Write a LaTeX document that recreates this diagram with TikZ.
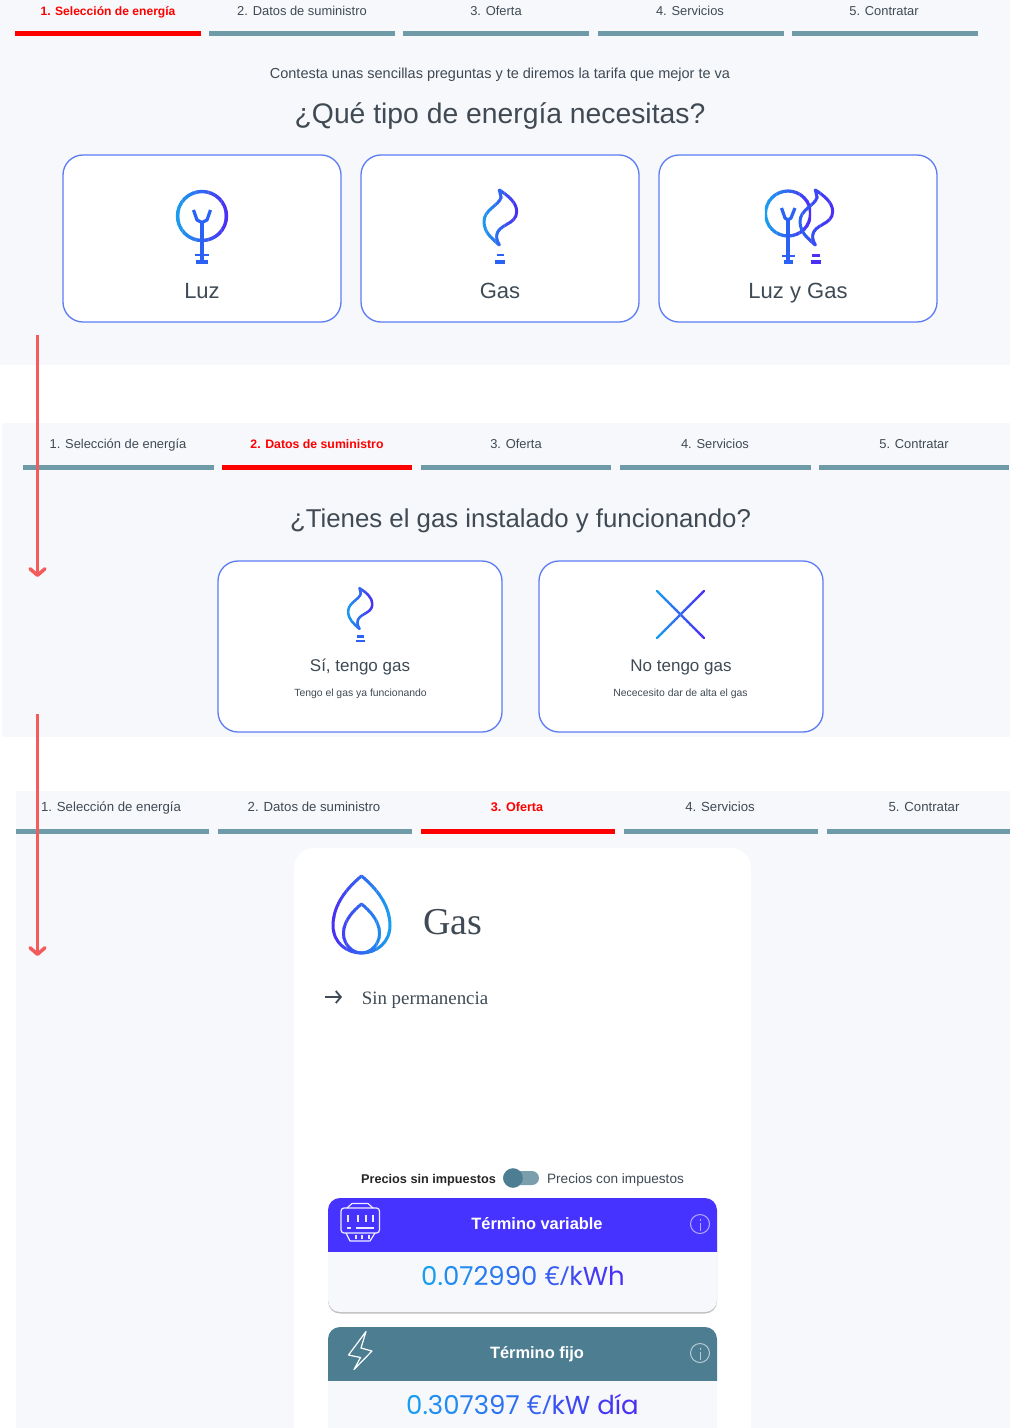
\documentclass[tikz,border=0pt]{standalone}
\usepackage{fontspec}
\setmainfont{Liberation Sans}
\newfontfamily\serifx{Liberation Serif}
\newfontfamily\pricef{Poppins}
\newfontfamily\eurof{Open Sans}
\usetikzlibrary{arrows.meta}
\definecolor{panel}{HTML}{F7F8FB}
\definecolor{barg}{HTML}{6F9AA8}
\definecolor{ink}{HTML}{3F4A54}
\definecolor{edgeb}{HTML}{5B7CF5}
\definecolor{gcyan}{HTML}{1A9DEE}
\definecolor{gviolet}{HTML}{4A30F5}
\definecolor{gmid}{HTML}{2A62F5}
\definecolor{redarrow}{HTML}{F45B5B}
\definecolor{headv}{HTML}{4733FF}
\definecolor{headt}{HTML}{4C7D91}
\definecolor{knobc}{HTML}{4C7D92}
\definecolor{trackc}{HTML}{7A9EAC}
\newcommand\fz[1]{\fontsize{#1}{#1}\selectfont}
% stroke a path with a horizontal gradient: x0, x1, left colour, right colour, width, path
\newcommand\gstroke[6]{%
  \foreach \i in {0,...,15}{%
    \pgfmathsetmacro\xa{#1+(#2-#1)*\i/16-0.2}%
    \pgfmathsetmacro\xb{#1+(#2-#1)*(\i+1)/16+0.2}%
    \pgfmathsetmacro\pp{100*\i/15}%
    \begin{scope}
      \clip (\xa,-3000) rectangle (\xb,3000);
      \draw[line width=#5,color={#4!\pp!#3},line join=round,line cap=round] #6;
    \end{scope}}}
\newcommand\leafpath{(-0.7,-27.5) .. controls (8,-22) and (16.7,-15) .. (16.7,-6) .. controls (16.7,8) and (-3,6) .. (-3.5,19) .. controls (-3.5,22) and (-2,25) .. (-0.7,27.5) .. controls (-8,21) and (-16,15) .. (-16,4) .. controls (-16,-8) and (-1,-12) .. (1,-20) .. controls (0.8,-22) and (-0.2,-25) .. (-0.7,-27.5)}
\newcommand\droppath{(0,-38.5) .. controls (-14,-27) and (-28.5,-10) .. (-28.5,11) .. controls (-28.5,28) and (-15,38.5) .. (0,38.5) .. controls (15,38.5) and (28.5,28) .. (28.5,11) .. controls (28.5,-10) and (14,-27) .. (0,-38.5)}
\newcommand\innerdrop{(0,-10.5) .. controls (-8,-4) and (-18,6) .. (-18,19) .. controls (-18,30) and (-9,38.5) .. (0,38.5) .. controls (9,38.5) and (18,30) .. (18,19) .. controls (18,6) and (8,-4) .. (0,-10.5)}
\newcommand\gc[2]{\textcolor{gcyan!#1!gviolet}{#2}}
\tikzset{
  txt/.style={anchor=base,inner sep=0pt,outer sep=0pt,text=ink},
  fs/.style={txt,font=\fz{#1},yshift={-0.36*#1*1pt}},
  fsb/.style={txt,font={\fz{#1}\bfseries},yshift={-0.36*#1*1pt}},
  barline/.style={line width=4.5pt,draw=barg},
  redline/.style={line width=4.5pt,draw=red},
  tabl/.style={fs=12.9},
  tabw/.style={fs=13.2},
  tabr/.style={fsb=12.1,text=red},
  card/.style={draw=edgeb,line width=1.3pt,fill=white,rounded corners=20pt,inner sep=0pt},
  flow/.style={draw=redarrow,line width=3.5pt,-{Straight Barb[length=6.5pt,width=15pt,line width=3.5pt,round]}},
  info/.style={draw=white,draw opacity=.6,line width=1pt},
}
\begin{document}
\begin{tikzpicture}[x=1pt,y=-1pt]
\useasboundingbox (0,0) rectangle (1010,1428);
\begin{scope}
\clip (0,0) rectangle (1010,1428);
% panels
\fill[white] (0,0) rectangle (1010,1428);
\fill[panel] (0,0) rectangle (1010,365);
\fill[panel] (2,423) rectangle (1010,737);
\fill[panel] (16,791) rectangle (1010,1428);
\fill[white,rounded corners=20pt] (294,848) rectangle (751,1480);

% tabs 1
\node[tabr] (t11) at (108,11) {1. Selección de energía};
\node[tabl] (t12) at (302,11) {2. Datos de suministro};
\node[tabl] (t13) at (496,11) {3. Oferta};
\node[tabl] (t14) at (690,11) {4. Servicios};
\node[tabl] (t15) at (884,11) {5. Contratar};
\draw[redline] (15,33.5) -- (201,33.5);
\draw[barline] (209,33.5) -- (395,33.5);
\draw[barline] (403,33.5) -- (589,33.5);
\draw[barline] (598,33.5) -- (784,33.5);
\draw[barline] (792,33.5) -- (978,33.5);
\node[fs=14.5] (intro) at (500,73) {Contesta unas sencillas preguntas y te diremos la tarifa que mejor te va};
\node[fs=28.3] (q1) at (500,113) {¿Qué tipo de energía necesitas?};

\node[card,minimum width=278pt,minimum height=167pt] (c1) at (202,238.5) {};
\node[card,minimum width=278pt,minimum height=167pt] (c2) at (500,238.5) {};
\node[card,minimum width=278pt,minimum height=167pt] (c3) at (798,238.5) {};
\node[fs=22] (l1) at (202,291) {Luz};
\node[fs=22] (l2) at (500,291) {Gas};
\node[fs=22] (l3) at (798,291) {Luz y Gas};

% Luz icon
\gstroke{176}{228}{gcyan}{gviolet}{3.4pt}{(202,216) circle (24.5)}
\draw[gmid,line width=3.2pt,line join=round] (193.5,210) -- (197,220) -- (202,222.5) -- (207,220) -- (210.5,210);
\draw[gmid,line width=3.4pt] (202,222.5) -- (202,262);
\draw[gmid,line width=2.8pt] (195,255) -- (209,255);
\draw[gmid,line width=3.5pt] (196,262) -- (208,262);

% Gas icon
\begin{scope}[shift={(500,217.5)}]
\gstroke{-18}{18}{gcyan}{gviolet}{3pt}{\leafpath}
\end{scope}
\draw[gmid,line width=2.8pt] (496.5,255) -- (504,255);
\draw[gmid,line width=3.2pt] (495,262) -- (505,262);

% Luz y Gas icon
\gstroke{765}{811}{gcyan}{gviolet}{3.2pt}{(788,213.5) circle (22.5)}
\draw[gmid,line width=3.2pt,line join=round] (781.5,208) -- (785,218) -- (788,220) -- (791,218) -- (795,208);
\draw[gmid,line width=3.4pt] (788,220) -- (788,263);
\draw[gmid,line width=2.8pt] (782,256) -- (795,256);
\draw[gmid,line width=3.5pt] (784,262) -- (793,262);
\begin{scope}[shift={(816,217.5)}]
\gstroke{-18}{18}{gmid}{gviolet}{3pt}{\leafpath}
\end{scope}
\draw[gviolet,line width=2.8pt] (812,255.5) -- (820,255.5);
\draw[gviolet,line width=3.2pt] (811,262) -- (821,262);

% tabs 2
\node[tabl] (t21) at (118,444) {1. Selección de energía};
\node[fsb=12.3,text=red] (t22) at (317,444) {2. Datos de suministro};
\node[tabl] (t23) at (516,444) {3. Oferta};
\node[tabl] (t24) at (715,444) {4. Servicios};
\node[tabl] (t25) at (914,444) {5. Contratar};
\draw[barline] (23,467.5) -- (214,467.5);
\draw[redline] (222,467.5) -- (412,467.5);
\draw[barline] (421,467.5) -- (611,467.5);
\draw[barline] (620,467.5) -- (811,467.5);
\draw[barline] (819,467.5) -- (1009,467.5);
\node[fs=25.8] (q2) at (520.5,518) {¿Tienes el gas instalado y funcionando?};

\node[card,minimum width=284pt,minimum height=171pt] (c4) at (360,646.5) {};
\node[card,minimum width=284pt,minimum height=171pt] (c5) at (681,646.5) {};
\node[fs=17] (l4) at (360,665) {Sí, tengo gas};
\node[fs=17] (l5) at (681,665) {No tengo gas};
\node[fs=10.4] (s4) at (360.5,693) {Tengo el gas ya funcionando};
\node[fs=10.4] (s5) at (680.5,693) {Nececesito dar de alta el gas};
\begin{scope}[shift={(360,608.5)},scale=.74]
\gstroke{-18}{18}{gcyan}{gviolet}{2.5pt}{\leafpath}
\end{scope}
\draw[gmid,line width=2.4pt] (357,636.5) -- (364,636.5);
\draw[gmid,line width=2.8pt] (356,641) -- (365,641);
\gstroke{656}{705}{gcyan}{gviolet}{2.4pt}{(657,591) -- (704,638) (704,591) -- (657,638)}

% tabs 3
\node[tabw] (t31) at (111,807) {1. Selección de energía};
\node[tabw] (t32) at (314,807) {2. Datos de suministro};
\node[fsb=12.6,text=red] (t33) at (517,807) {3. Oferta};
\node[tabw] (t34) at (720,807) {4. Servicios};
\node[tabw] (t35) at (924,807) {5. Contratar};
\draw[barline] (16,831.5) -- (209,831.5);
\draw[barline] (218,831.5) -- (412,831.5);
\draw[redline] (421,831.5) -- (615,831.5);
\draw[barline] (624,831.5) -- (818,831.5);
\draw[barline] (827,831.5) -- (1010,831.5);

% offer card
\begin{scope}[shift={(361.5,914.5)}]
\gstroke{-30}{30}{gviolet}{gcyan}{3pt}{\droppath}
\gstroke{-30}{30}{gviolet}{gcyan}{3pt}{\innerdrop}
\end{scope}
\node[fs=38] (g) at (453,921) {\serifx Gas};
\coordinate (pa) at (325,997);
\coordinate (pb) at (342,997);
\draw[ink,line width=1.8pt,-{Straight Barb[length=5pt,width=12pt,line width=1.8pt]}] (pa) -- (pb);
\node[fs=18.9] (sp) at (425,998) {\serifx Sin permanencia};

\node[fsb=12.7,text=black!85] (ps) at (428.5,1179) {Precios sin impuestos};
\fill[trackc,rounded corners=7pt] (503,1171) rectangle (539,1185);
\fill[knobc] (513,1178) circle (9.8);
\node[fs=13.6] (pc) at (615.5,1179) {Precios con impuestos};

% term variable
\fill[black!25,rounded corners=12pt] (328,1230) rectangle (717,1313.5);
\fill[panel,rounded corners=12pt] (328,1215) rectangle (717,1312);
\begin{scope}
\clip (320,1190) rectangle (730,1251);
\fill[headv,rounded corners=12pt] (328,1198) rectangle (717,1280);
\end{scope}
\node[fsb=16.4,text=white] (tv) at (537,1224) {Término variable};
\draw[info] (700,1224) circle (9.5);
\draw[info] (700,1219) -- (700,1220.5) (700,1222.5) -- (700,1231);
\begin{scope}[draw=white,draw opacity=.9,line width=1.2pt,line join=round]
\draw[rounded corners=3pt] (341,1208) rectangle (379.5,1233);
\draw (347,1208) -- (352,1203.5) -- (368,1203.5) -- (373,1208);
\draw (346,1233) -- (350,1241) -- (370,1241) -- (375,1233);
\draw (348,1215) -- (348,1222) (358,1215) -- (358,1222) (366,1215) -- (366,1222) (373,1215) -- (373,1222);
\draw (347,1228) -- (351,1228) (356,1228) -- (374,1228);
\draw (356,1235) -- (356,1239) (362,1235) -- (362,1239) (369,1235) -- (369,1239);
\end{scope}
\node[fs=26] (pv) at (523,1276) {\pricef\gc{100}{0.}\gc{85}{07}\gc{70}{29}\gc{55}{90} {\eurof\gc{40}{€/}}\gc{25}{k}\gc{10}{W}\gc{0}{h}};

% term fijo
\fill[panel,rounded corners=12pt] (328,1340) rectangle (717,1460);
\begin{scope}
\clip (320,1320) rectangle (730,1380);
\fill[headt,rounded corners=12pt] (328,1327) rectangle (717,1420);
\end{scope}
\node[fsb=16.4,text=white] (tf) at (537,1353) {Término fijo};
\draw[info] (700,1353) circle (9.5);
\draw[info] (700,1348) -- (700,1349.5) (700,1351.5) -- (700,1360);
\draw[white,line width=1.2pt,line join=round] (366,1331.5) -- (348.5,1355) -- (360.5,1357.5) -- (354,1369.5) -- (372,1351) -- (361,1348) -- cycle;
\node[fs=26] (pf) at (522.5,1405) {\pricef\gc{100}{0.}\gc{85}{30}\gc{72}{73}\gc{60}{97} {\eurof\gc{45}{€/}}\gc{30}{k}\gc{20}{W} \gc{8}{d}\gc{0}{ía}};

% flow arrows
\coordinate (a1s) at (37.5,335);
\coordinate (a1e) at (37.5,577);
\coordinate (a2s) at (37.5,714);
\coordinate (a2e) at (37.5,956);
\draw[flow] (a1s) -- (a1e);
\draw[flow] (a2s) -- (a2e);
\end{scope}
\end{tikzpicture}
\end{document}
